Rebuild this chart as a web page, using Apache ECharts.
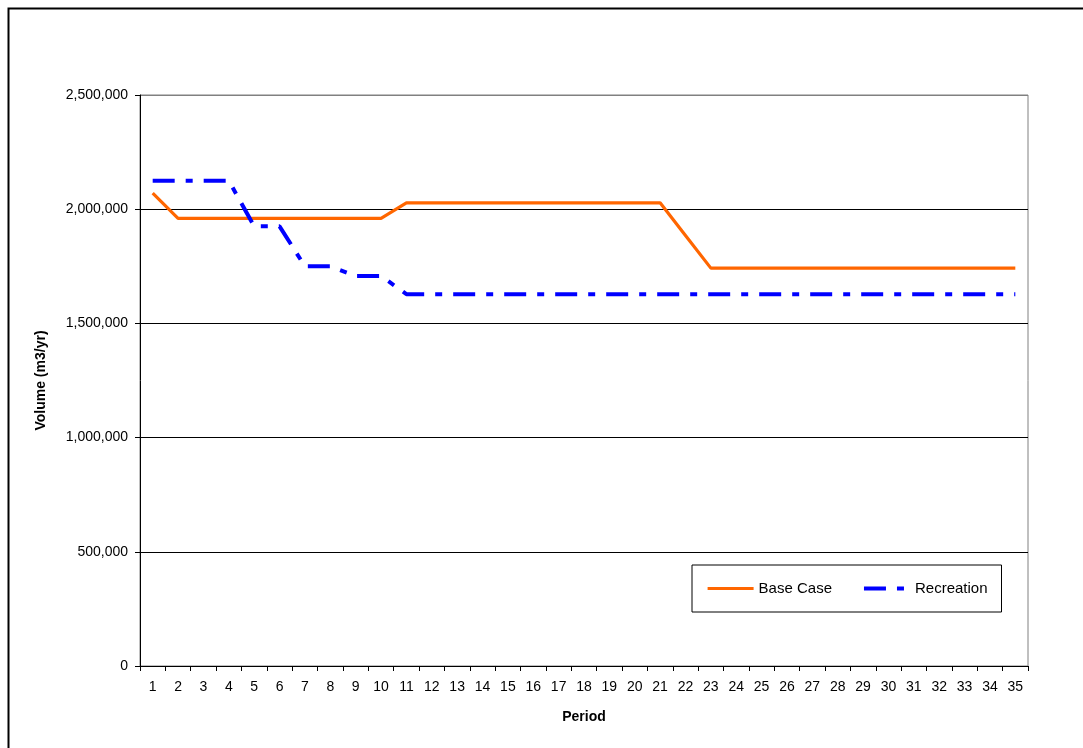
<!DOCTYPE html>
<html>
<head>
<meta charset="utf-8">
<script src="https://cdn.jsdelivr.net/npm/echarts@6/dist/echarts.min.js"></script>
<style>
  html, body { margin: 0; padding: 0; background: #fff; }
  #chart { width: 1083px; height: 748px; }
</style>
</head>
<body>
<div id="chart"></div>
<script>
// Harvest volume per planning period for two management scenarios
const periods = Array.from({ length: 35 }, (_, i) => String(i + 1));

const baseCase = [
  2070000, 1960000, 1960000, 1960000, 1960000, 1960000, 1960000, 1960000, 1960000, 1960000,
  2028000, 2028000, 2028000, 2028000, 2028000, 2028000, 2028000, 2028000, 2028000, 2028000,
  2028000, 1885000, 1742000, 1742000, 1742000, 1742000, 1742000, 1742000, 1742000, 1742000,
  1742000, 1742000, 1742000, 1742000, 1742000
];

const recreation = [
  2125000, 2125000, 2125000, 2125000, 1925000, 1925000, 1750000, 1750000, 1708000, 1708000,
  1628000, 1628000, 1628000, 1628000, 1628000, 1628000, 1628000, 1628000, 1628000, 1628000,
  1628000, 1628000, 1628000, 1628000, 1628000, 1628000, 1628000, 1628000, 1628000, 1628000,
  1628000, 1628000, 1628000, 1628000, 1628000
];

const seriesNames = ['Base Case', 'Recreation'];

const FONT = '"Liberation Sans", Arial, sans-serif';
const BASE_WIDTH = 3.2;
const REC_WIDTH = 4;
const REC_DASH = [22, 11, 7, 11];

const chart = echarts.init(document.getElementById('chart'), null, { renderer: 'canvas' });

chart.setOption({
  backgroundColor: '#ffffff',
  animation: false,
  graphic: [
    {
      type: 'rect',
      left: 6, top: 6,
      shape: { width: 1090, height: 760 },
      style: { fill: 'none', stroke: '#000', lineWidth: 2 },
      silent: true
    }
  ],
  grid: {
    left: 140, right: 55, top: 95, bottom: 82,
    show: true, borderColor: '#808080', borderWidth: 1, backgroundColor: 'transparent'
  },
  legend: {
    left: 692, top: 565,
    padding: [16, 14],
    itemGap: 30,
    itemWidth: 46,
    itemHeight: 14,
    borderColor: '#000', borderWidth: 1,
    backgroundColor: '#fff',
    itemStyle: { opacity: 0 },
    textStyle: { fontFamily: FONT, fontSize: 15, color: '#000' },
    data: [
      { name: seriesNames[0], lineStyle: { width: BASE_WIDTH } },
      { name: seriesNames[1], lineStyle: { width: REC_WIDTH, type: REC_DASH } }
    ]
  },
  xAxis: {
    type: 'category',
    data: periods,
    boundaryGap: true,
    name: 'Period',
    nameLocation: 'middle',
    nameGap: 44,
    nameTextStyle: { fontFamily: FONT, fontSize: 14, fontWeight: 'bold', color: '#000' },
    axisLine: { lineStyle: { color: '#000', width: 1 } },
    axisTick: { show: true, inside: false, length: 5, alignWithLabel: false, interval: 0, lineStyle: { color: '#000' } },
    axisLabel: { interval: 0, margin: 14, fontFamily: FONT, fontSize: 14, color: '#000' },
    splitLine: { show: false }
  },
  yAxis: {
    type: 'value',
    min: 0, max: 2500000, interval: 500000,
    name: 'Volume (m3/yr)',
    nameLocation: 'middle',
    nameGap: 92,
    nameTextStyle: { fontFamily: FONT, fontSize: 14, fontWeight: 'bold', color: '#000' },
    axisLine: { show: true, lineStyle: { color: '#000', width: 1 } },
    axisTick: { show: true, inside: false, length: 5, lineStyle: { color: '#000' } },
    axisLabel: {
      margin: 12, fontFamily: FONT, fontSize: 14, color: '#000',
      formatter: v => v.toLocaleString('en-US')
    },
    splitLine: {
      show: true,
      lineStyle: { color: ['#000', '#000', '#000', '#000', '#000', '#808080'], width: 1 }
    }
  },
  series: [
    {
      name: seriesNames[0],
      type: 'line',
      data: baseCase,
      symbol: 'none',
      showSymbol: false,
      color: '#FF6600',
      lineStyle: { color: '#FF6600', width: BASE_WIDTH, type: 'solid' },
      z: 3
    },
    {
      name: seriesNames[1],
      type: 'line',
      data: recreation,
      symbol: 'none',
      showSymbol: false,
      color: '#0000FF',
      lineStyle: { color: '#0000FF', width: REC_WIDTH, type: REC_DASH, cap: 'butt' },
      z: 4
    }
  ]
});
</script>
</body>
</html>
